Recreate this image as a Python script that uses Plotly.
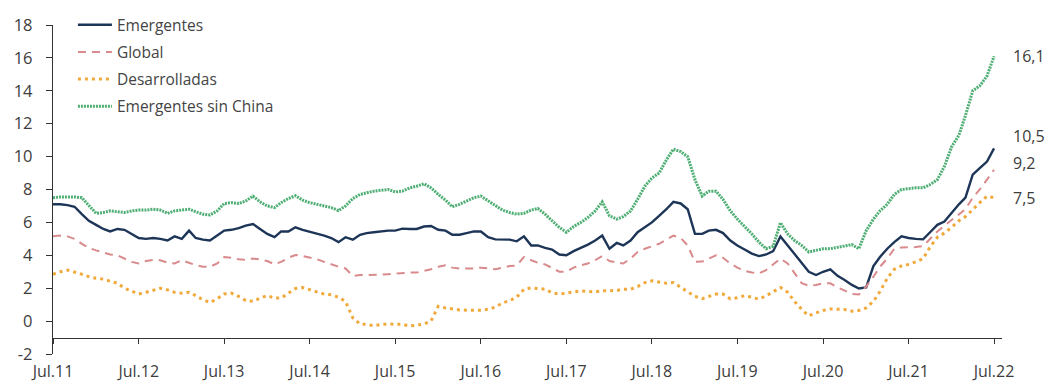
import pandas as pd
import plotly.graph_objects as go

# Monthly series, Jul 2011 - Jul 2022 (%)
months = pd.date_range("2011-07-01", "2022-07-01", freq="MS")

emergentes = [
    7.1, 7.1, 7.05, 6.95, 6.5, 6.1, 5.85, 5.6, 5.45, 5.6,
    5.55, 5.3, 5.05, 5.0, 5.05, 5.0, 4.9, 5.15, 5.0, 5.5,
    5.05, 4.95, 4.9, 5.2, 5.5, 5.55, 5.65, 5.8, 5.9, 5.6,
    5.3, 5.1, 5.45, 5.45, 5.7, 5.55, 5.45, 5.35, 5.2, 5.05,
    4.8, 5.1, 4.95, 5.25, 5.35, 5.4, 5.45, 5.5, 5.5, 5.62,
    5.6, 5.6, 5.75, 5.78, 5.55, 5.5, 5.25, 5.25, 5.35, 5.45,
    5.45, 5.1, 4.97, 4.97, 4.95, 4.85, 5.15, 4.6, 4.6, 4.45,
    4.35, 4.05, 4.0, 4.25, 4.45, 4.65, 4.9, 5.2, 4.4, 4.75,
    4.6, 4.9, 5.4, 5.7, 6.0, 6.4, 6.8, 7.25, 7.15, 6.8,
    5.3, 5.3, 5.5, 5.55, 5.35, 4.9, 4.6, 4.35, 4.1, 3.95,
    4.05, 4.25, 5.15, 4.6, 4.1, 3.55, 3.0, 2.8, 3.0, 3.15,
    2.75, 2.5, 2.2, 1.98, 2.05, 3.35, 3.9, 4.4, 4.8, 5.15,
    5.05, 5.0, 4.97, 5.4, 5.85, 6.05, 6.6, 7.1, 7.5, 8.9,
    9.3, 9.7, 10.5,
]

global_ = [
    5.15, 5.2, 5.15, 5.0, 4.7, 4.45, 4.3, 4.15, 4.05, 4.0,
    3.8, 3.6, 3.5, 3.65, 3.72, 3.7, 3.55, 3.5, 3.7, 3.55,
    3.4, 3.3, 3.3, 3.5, 3.9, 3.85, 3.76, 3.72, 3.8, 3.75,
    3.65, 3.45, 3.6, 3.85, 4.02, 3.95, 3.85, 3.76, 3.6, 3.45,
    3.3, 3.2, 2.75, 2.8, 2.8, 2.8, 2.82, 2.85, 2.88, 2.95,
    2.95, 2.95, 3.05, 3.15, 3.3, 3.4, 3.25, 3.2, 3.2, 3.2,
    3.25, 3.2, 3.15, 3.25, 3.35, 3.38, 3.9, 3.7, 3.55, 3.45,
    3.25, 3.0, 3.0, 3.25, 3.4, 3.5, 3.7, 3.96, 3.65, 3.55,
    3.5, 3.8, 4.2, 4.4, 4.55, 4.7, 4.95, 5.2, 5.05, 4.6,
    3.6, 3.62, 3.8, 4.0, 3.85, 3.5, 3.25, 3.05, 2.95, 2.9,
    3.1, 3.45, 3.8, 3.5, 2.9, 2.3, 2.15, 2.2, 2.3, 2.3,
    2.05, 1.85, 1.65, 1.62, 2.1, 2.7, 3.3, 3.8, 4.4, 4.47,
    4.47, 4.5, 4.56, 5.0, 5.45, 5.8, 6.15, 6.5, 6.8, 7.5,
    8.0, 8.6, 9.2,
]

desarrolladas = [
    2.85, 3.0, 3.1, 3.0, 2.85, 2.7, 2.6, 2.55, 2.45, 2.3,
    2.0, 1.8, 1.65, 1.75, 1.9, 2.0, 1.9, 1.75, 1.7, 1.75,
    1.55, 1.3, 1.13, 1.35, 1.65, 1.7, 1.5, 1.25, 1.2, 1.4,
    1.55, 1.4, 1.4, 1.7, 1.98, 2.04, 1.9, 1.75, 1.64, 1.6,
    1.45, 1.2, 0.2, -0.18, -0.2, -0.28, -0.2, -0.18, -0.18, -0.2,
    -0.3, -0.25, -0.18, 0.0, 0.9, 0.8, 0.72, 0.68, 0.66, 0.66,
    0.66, 0.72, 0.85, 1.1, 1.25, 1.45, 1.94, 2.02, 1.98, 1.94,
    1.72, 1.64, 1.7, 1.78, 1.84, 1.8, 1.77, 1.84, 1.84, 1.86,
    1.94, 1.94, 2.1, 2.34, 2.45, 2.38, 2.3, 2.34, 2.05, 1.75,
    1.5, 1.37, 1.5, 1.64, 1.64, 1.35, 1.42, 1.54, 1.45, 1.33,
    1.54, 1.8, 2.04, 1.75, 1.2, 0.7, 0.32, 0.5, 0.65, 0.74,
    0.72, 0.7, 0.6, 0.65, 0.8, 1.2, 1.8, 2.6, 3.15, 3.35,
    3.45, 3.6, 3.8, 4.5, 5.1, 5.35, 5.7, 6.1, 6.35, 6.8,
    7.2, 7.6, 7.5,
]

emergentes_sin_china = [
    7.5, 7.55, 7.55, 7.55, 7.5, 7.0, 6.55, 6.6, 6.7, 6.65,
    6.6, 6.7, 6.75, 6.75, 6.8, 6.75, 6.55, 6.7, 6.75, 6.8,
    6.65, 6.5, 6.45, 6.7, 7.15, 7.2, 7.15, 7.3, 7.6, 7.25,
    7.0, 6.9, 7.2, 7.45, 7.62, 7.35, 7.2, 7.1, 7.0, 6.9,
    6.72, 7.0, 7.45, 7.7, 7.8, 7.9, 7.95, 8.0, 7.85, 7.9,
    8.1, 8.2, 8.35, 8.1, 7.7, 7.35, 6.95, 7.1, 7.3, 7.5,
    7.6, 7.3, 7.0, 6.75, 6.6, 6.5, 6.55, 6.75, 6.85, 6.5,
    6.1, 5.7, 5.4, 5.75, 6.0, 6.3, 6.7, 7.25, 6.4, 6.2,
    6.35, 6.7, 7.4, 8.2, 8.7, 9.0, 9.8, 10.45, 10.3, 10.0,
    8.6, 7.6, 7.9, 7.9, 7.4, 6.7, 6.2, 5.75, 5.3, 4.8,
    4.4, 4.55, 5.98, 5.3, 4.9, 4.6, 4.2, 4.3, 4.4, 4.4,
    4.47, 4.55, 4.65, 4.4, 5.5, 6.2, 6.7, 7.1, 7.7, 8.0,
    8.05, 8.1, 8.1, 8.3, 8.6, 9.4, 10.6, 11.3, 12.5, 14.0,
    14.3, 14.9, 16.1,
]

tick_dates = pd.date_range("2011-07-01", "2022-07-01", freq="12MS")
tick_labels = ["Jul.11", "Jul.12", "Jul.13", "Jul.14", "Jul.15", "Jul.16",
               "Jul.17", "Jul.18", "Jul.19", "Jul.20", "Jul.21", "Jul.22"]

y_ticks = [-2, 0, 2, 4, 6, 8, 10, 12, 14, 16, 18]
y_tick_labels = ["-2", "0", "2", "4", "6", "8", "10", "12", "14", "16", "18"]

FONT = "Open Sans, Noto Sans, sans-serif"
TEXT = "#3d3d3d"

series = [
    ("Emergentes", emergentes, dict(color="#1d3557", width=2.4)),
    ("Global", global_, dict(color="#d98a8c", width=2, dash="8px,6px")),
    ("Desarrolladas", desarrolladas, dict(color="#f0a93a", width=3, dash="3px,4px")),
    ("Emergentes sin China", emergentes_sin_china, dict(color="#4fae74", width=3, dash="2px,1px")),
]

fig = go.Figure()
for i, (name, vals, line) in enumerate(series):
    fig.add_trace(go.Scatter(
        x=months, y=vals, name=name, mode="lines", line=line,
        legendgroup=f"g{i}",
    ))

# end-of-series value labels
label_shift = {"Emergentes": 12, "Global": 7, "Desarrolladas": 0, "Emergentes sin China": 0}
for name, vals, _ in series:
    fig.add_annotation(
        x=months[-1], y=vals[-1], text=f"{vals[-1]:.1f}".replace(".", ","),
        showarrow=False, xanchor="left", yanchor="middle",
        xshift=17, yshift=label_shift[name],
        font=dict(family=FONT, size=16, color=TEXT),
    )

fig.update_layout(
    width=1049, height=385,
    margin=dict(l=53, r=47, t=24.5, b=30.5, autoexpand=False),
    paper_bgcolor="white", plot_bgcolor="white",
    font=dict(family=FONT, size=16, color=TEXT),
    showlegend=True,
    legend=dict(
        x=0.021, y=1.051, xanchor="left", yanchor="top",
        bgcolor="rgba(255,255,255,0)", borderwidth=0,
        traceorder="grouped", tracegroupgap=4, itemwidth=34,
        font=dict(family=FONT, size=15.5, color="#444"),
    ),
    xaxis=dict(
        type="date",
        range=["2011-07-01", "2022-08-04"],
        tickvals=tick_dates, ticktext=tick_labels,
        anchor="free", position=0.05,
        showline=True, linecolor="#333", linewidth=1.3,
        ticks="outside", ticklen=5, tickcolor="#333",
        ticklabelstandoff=14,
        showgrid=False, zeroline=False, automargin=False,
        tickfont=dict(family=FONT, size=16, color=TEXT),
    ),
    yaxis=dict(
        range=[-2, 18],
        tickvals=y_ticks, ticktext=y_tick_labels,
        showline=True, linecolor="#333", linewidth=1.3,
        ticks="outside", ticklen=6, tickcolor="#333",
        ticklabelstandoff=10,
        showgrid=False, zeroline=False, automargin=False,
        tickfont=dict(family=FONT, size=16.5, color=TEXT),
    ),
)

fig.write_html("out.html")
